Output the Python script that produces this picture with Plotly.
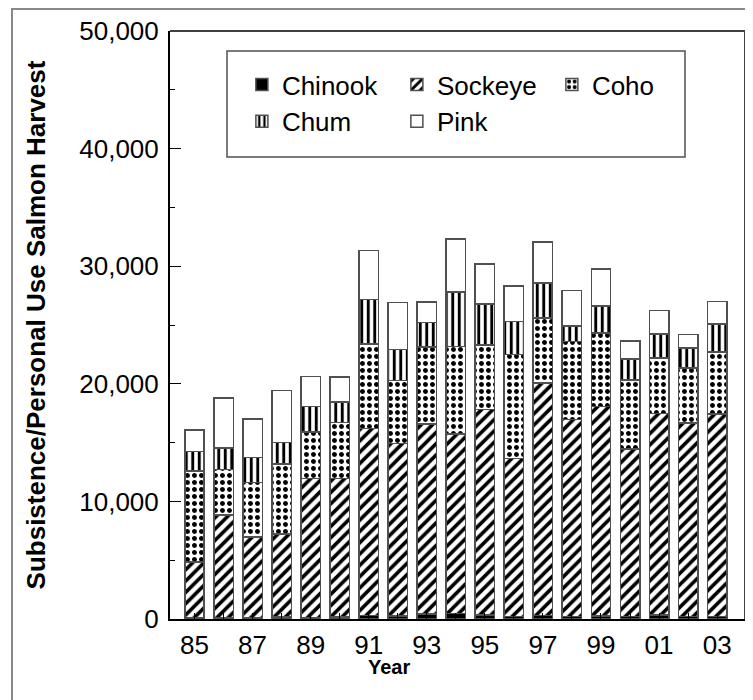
import plotly.graph_objects as go

years = list(range(1985, 2004))
tick_vals = [1985, 1987, 1989, 1991, 1993, 1995, 1997, 1999, 2001, 2003]
tick_text = ["85", "87", "89", "91", "93", "95", "97", "99", "01", "03"]

chinook = [100, 100, 100, 150, 100, 150, 300, 250, 420, 480, 350, 200, 300, 200, 250, 200, 350, 200, 200]
sockeye = [4750, 8735, 6890, 7070, 11850, 11800, 15910, 14690, 16170, 15260, 17460, 13460, 19750, 16780, 17840, 14260, 17140, 16470, 17240]
coho = [7750, 3860, 4600, 5960, 3950, 4770, 7190, 5340, 6530, 7440, 5510, 8840, 5540, 6620, 6250, 5880, 4720, 4690, 5250]
chum = [1650, 1850, 2130, 1840, 2180, 1740, 3750, 2640, 2080, 4630, 3460, 2810, 2980, 1300, 2270, 1790, 2040, 1700, 2390]
pink = [1820, 4230, 3300, 4400, 2560, 2100, 4180, 3980, 1760, 4490, 3410, 3010, 3470, 3040, 3150, 1530, 1990, 1130, 1910]

FONT = "Arial, Liberation Sans, sans-serif"
OUTLINE = dict(color="#505050", width=1.5)


def pat(shape, size, solidity):
    return dict(shape=shape, fgcolor="black", bgcolor="white", fgopacity=1,
                size=size, solidity=solidity, fillmode="replace")


series = [
    ("Chinook", chinook, dict(color="black", line=OUTLINE)),
    ("Sockeye", sockeye, dict(color="white", line=OUTLINE, pattern=pat("/", 8, 0.45))),
    ("Coho", coho, dict(color="white", line=OUTLINE, pattern=pat(".", 7, 0.4))),
    ("Chum", chum, dict(color="white", line=OUTLINE, pattern=pat("|", 6.5, 0.45))),
    ("Pink", pink, dict(color="white", line=OUTLINE)),
]

fig = go.Figure()
for name, vals, marker in series:
    fig.add_trace(go.Bar(x=years, y=vals, name=name, marker=marker, width=0.67))

# page body has an 8px margin, so the figure is drawn 8px in from the window edge
fig.update_layout(
    barmode="stack",
    width=745, height=692,
    margin=dict(l=162, r=8, t=23, b=81, autoexpand=False),
    paper_bgcolor="white", plot_bgcolor="white",
    font=dict(family=FONT, size=26, color="black"),
    showlegend=True,
    legend=dict(
        orientation="h", x=0.125, y=0.949, xanchor="left", yanchor="top",
        borderwidth=0, bgcolor="rgba(0,0,0,0)",
        entrywidth=110, font=dict(size=26, family=FONT),
        traceorder="normal",
    ),
    xaxis=dict(
        range=[1984.156, 2003.96],
        tickvals=tick_vals, ticktext=tick_text,
        ticks="inside", ticklen=6, tickcolor="black",
        minor=dict(dtick=1, tick0=1985, ticks="inside", ticklen=6, tickcolor="black"),
        showline=True, linecolor="black", linewidth=2, mirror=False,
        showgrid=False, zeroline=False, automargin=False,
        ticklabelstandoff=2,
    ),
    yaxis=dict(
        range=[0, 50000],
        tickvals=[0, 10000, 20000, 30000, 40000, 50000],
        tickformat=",",
        ticks="inside", ticklen=11, tickcolor="black",
        minor=dict(dtick=5000, ticks="inside", ticklen=5, tickcolor="black"),
        showline=True, linecolor="black", linewidth=2, mirror=False,
        showgrid=False, zeroline=False, automargin=False,
        ticklabelstandoff=4,
        title=dict(text="Subsistence/Personal Use Salmon Harvest",
                   font=dict(size=26, weight="bold", family=FONT), standoff=26),
    ),
    annotations=[dict(text="Year", xref="paper", yref="paper", x=0.381, y=-0.081,
                      xanchor="center", yanchor="middle", showarrow=False,
                      font=dict(size=20, weight="bold", family=FONT))],
    shapes=[
        dict(type="rect", xref="paper", yref="paper",
             x0=-0.2748, x1=1.05, y0=-0.2, y1=1.0374,
             line=dict(color="#888888", width=2), layer="below"),
        dict(type="line", xref="paper", yref="paper", x0=0, x1=1, y0=1, y1=1,
             line=dict(color="#404040", width=2)),
        dict(type="line", xref="paper", yref="paper", x0=1, x1=1, y0=0, y1=1,
             line=dict(color="#404040", width=2)),
        dict(type="rect", xref="paper", yref="paper",
             x0=(227 - 170) / 575, x1=(685 - 170) / 575,
             y0=(619 - 157) / 588, y1=(619 - 51) / 588,
             line=dict(color="#505050", width=1.5), fillcolor="white", layer="below"),
    ],
)

fig.write_html("out.html")
